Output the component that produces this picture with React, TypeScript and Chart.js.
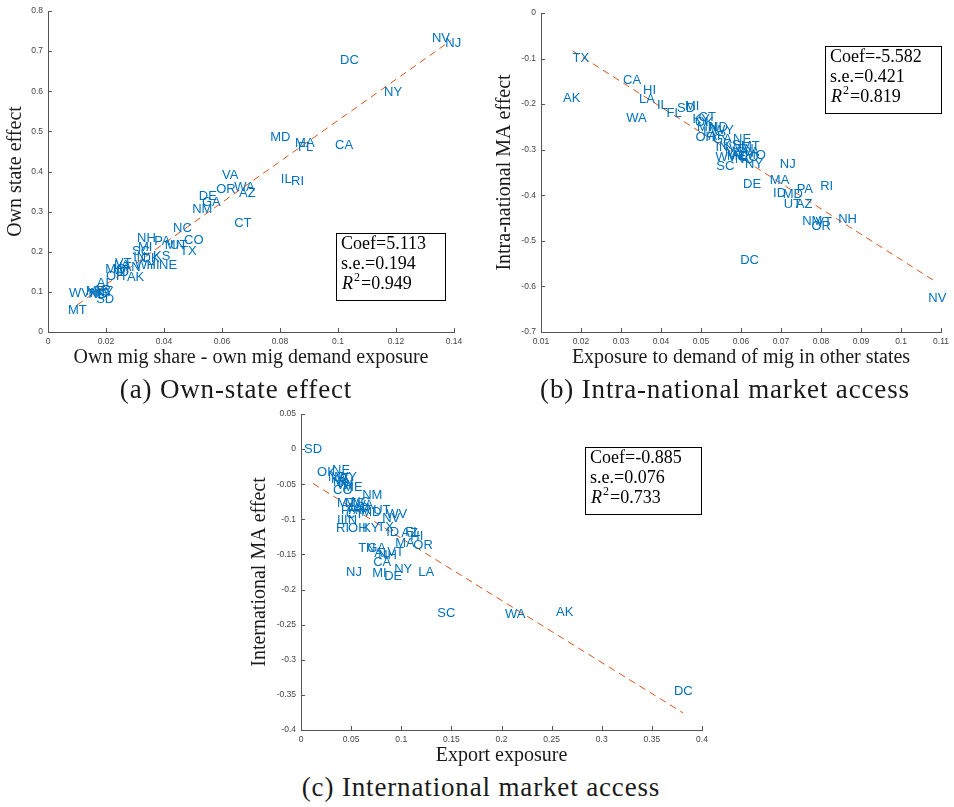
import React, { useEffect, useRef } from 'react';
import { Chart, registerables } from 'chart.js';

Chart.register(...registerables);

// ---------- Panel (a): Own-state effect ----------
const statesA = ['NV','NJ','DC','NY','MD','MA','FL','CA','VA','IL','RI','OR','WA','AZ','DE','GA','NM','CT','NC','CO','NH','PA','MN','UT','TX','SC','MI','IN','OK','KS','VT','WY','HI','NE','MO','WI','IA','OH','AK','AL','WV','ME','MS','KY','AR','SD','MT','LA','TN','ND','ID'];
const xA = [0.1324,0.1370,0.1007,0.1159,0.0766,0.0852,0.0862,0.0990,0.0600,0.0803,0.0838,0.0580,0.0642,0.0659,0.0520,0.0531,0.0497,0.0642,0.0431,0.0469,0.0307,0.0366,0.0403,0.0421,0.0455,0.0290,0.0310,0.0294,0.0320,0.0362,0.0231,0.0300,0.0340,0.0383,0.0197,0.0225,0.0245,0.0200,0.0272,0.0168,0.0072,0.0131,0.0145,0.0166,0.0155,0.0166,0.0069,0.0228,0.0260,0.0140,0.0235];
const yA = [0.731,0.718,0.676,0.596,0.486,0.469,0.459,0.464,0.389,0.381,0.376,0.356,0.360,0.346,0.337,0.324,0.306,0.271,0.257,0.227,0.234,0.225,0.217,0.215,0.200,0.202,0.211,0.185,0.183,0.188,0.170,0.167,0.165,0.165,0.155,0.153,0.160,0.138,0.137,0.122,0.095,0.100,0.097,0.098,0.103,0.082,0.055,0.165,0.160,0.094,0.148];
const coefA = 5.113;
const interceptA = 0.016;
const fitXA = [0.010, 0.139];
const statsA = ['Coef=5.113', 's.e.=0.194', '=0.949'];

// ---------- Panel (b): Intra-national market access ----------
const statesB = ['TX','CA','HI','LA','AK','IL','FL','SD','MI','WA','KY','CT','OK','MN','ND','WY','OH','IA','AR','GA','NE','IN','KS','WI','TN','MT','VA','MS','AL','ME','WV','MO','CO','NC','SC','NY','NJ','DE','MA','PA','RI','ID','MD','UT','AZ','NM','VT','OR','NH','DC','NV'];
const xB = [0.0179,0.0305,0.0355,0.0345,0.0155,0.0390,0.0414,0.0440,0.0460,0.0313,0.0479,0.0494,0.0485,0.0490,0.0520,0.0530,0.0486,0.0505,0.0518,0.0530,0.0580,0.0536,0.0555,0.0570,0.0588,0.0600,0.0605,0.0560,0.0575,0.0565,0.0536,0.0610,0.0595,0.0585,0.0538,0.0610,0.0697,0.0605,0.0672,0.0739,0.0798,0.0680,0.0704,0.0707,0.0737,0.0753,0.0786,0.0776,0.0843,0.0598,0.1068];
const yB = [-0.099,-0.147,-0.169,-0.189,-0.187,-0.202,-0.220,-0.209,-0.205,-0.231,-0.234,-0.230,-0.240,-0.252,-0.252,-0.258,-0.272,-0.262,-0.271,-0.278,-0.278,-0.294,-0.290,-0.297,-0.300,-0.293,-0.305,-0.305,-0.312,-0.315,-0.318,-0.313,-0.318,-0.322,-0.337,-0.333,-0.333,-0.376,-0.368,-0.388,-0.381,-0.397,-0.399,-0.419,-0.421,-0.458,-0.460,-0.469,-0.452,-0.544,-0.627];
const coefB = -5.582;
const interceptB = 0.0169;
const fitXB = [0.0179, 0.109];
const statsB = ['Coef=-5.582', 's.e.=0.421', '=0.819'];

// ---------- Panel (c): International market access ----------
const statesC = ['SD','OK','NE','ND','KS','WY','IA','MN','CO','ME','WI','NM','MT','MS','NC','VA','PA','MO','AR','UT','WV','NV','IN','IL','RI','OH','KY','TX','ID','AZ','FL','HI','MA','OR','TN','GA','AL','VT','NH','CA','NJ','MI','DE','NY','LA','SC','WA','AK','DC','CT','MD'];
const xC = [0.003,0.016,0.031,0.027,0.030,0.035,0.037,0.032,0.032,0.042,0.036,0.061,0.036,0.044,0.050,0.056,0.040,0.047,0.052,0.072,0.085,0.081,0.043,0.036,0.035,0.047,0.061,0.076,0.085,0.100,0.104,0.109,0.094,0.112,0.057,0.066,0.073,0.086,0.077,0.072,0.045,0.071,0.083,0.093,0.117,0.136,0.2035,0.2544,0.372,0.045,0.060];
const yC = [0.000,-0.033,-0.031,-0.040,-0.043,-0.041,-0.048,-0.047,-0.059,-0.054,-0.052,-0.066,-0.077,-0.078,-0.076,-0.080,-0.088,-0.085,-0.088,-0.087,-0.093,-0.098,-0.101,-0.101,-0.113,-0.113,-0.113,-0.111,-0.119,-0.120,-0.118,-0.125,-0.134,-0.137,-0.142,-0.142,-0.149,-0.147,-0.152,-0.161,-0.176,-0.177,-0.181,-0.171,-0.176,-0.234,-0.236,-0.233,-0.345,-0.093,-0.090];
const coefC = -0.885;
const interceptC = -0.0384;
const fitXC = [0.012, 0.381];
const statsC = ['Coef=-0.885', 's.e.=0.076', '=0.733'];

const captions = ['(a) Own-state effect', '(b) Intra-national market access', '(c) International market access'];

// ---------- styles ----------
const LABEL_BLUE = '#0072BD';
const FIT_ORANGE = '#D95319';
const AXIS_GRAY = '#555555';
const SANS = '"Liberation Sans", Arial, Helvetica, sans-serif';
const SERIF = '"Liberation Serif", "Times New Roman", serif';

const fmt = (v: number) => String(Math.round(v * 10000) / 10000);

const labelPlugin = {
  id: 'stateLabels',
  afterDatasetsDraw(chart: any) {
    const ctx = chart.ctx;
    chart.data.datasets.forEach((ds: any, i: number) => {
      if (!ds.stateLabels) return;
      const meta = chart.getDatasetMeta(i);
      ctx.save();
      ctx.font = `13px ${SANS}`;
      ctx.fillStyle = LABEL_BLUE;
      ctx.textAlign = 'left';
      ctx.textBaseline = 'middle';
      meta.data.forEach((pt: any, j: number) => ctx.fillText(ds.stateLabels[j], pt.x, pt.y));
      ctx.restore();
    });
  },
};

const inwardTicks = {
  id: 'inwardTicks',
  afterDraw(chart: any) {
    const { ctx, chartArea: ca } = chart;
    ctx.save();
    ctx.strokeStyle = AXIS_GRAY;
    ctx.lineWidth = 1;
    Object.values(chart.scales).forEach((s: any) => {
      s.ticks.forEach((_t: any, i: number) => {
        const p = s.getPixelForTick(i);
        ctx.beginPath();
        if (s.isHorizontal()) {
          const x = Math.round(p) + 0.5;
          ctx.moveTo(x, ca.bottom);
          ctx.lineTo(x, ca.bottom - 4);
        } else {
          const y = Math.round(p) + 0.5;
          ctx.moveTo(ca.left, y);
          ctx.lineTo(ca.left + 4, y);
        }
        ctx.stroke();
      });
    });
    ctx.restore();
  },
};

function statsBox(lines: string[], fx: number, fy: number) {
  return {
    id: 'statsBox',
    afterDraw(chart: any) {
      const { ctx, chartArea: ca } = chart;
      const left = Math.round(ca.left + fx * (ca.right - ca.left));
      const top = Math.round(ca.top + fy * (ca.bottom - ca.top));
      ctx.save();
      ctx.font = `18px ${SERIF}`;
      const w = Math.max(ctx.measureText(lines[0]).width, ctx.measureText(lines[1]).width);
      const bw = Math.round(w + 24);
      const bh = 67;
      ctx.fillStyle = '#ffffff';
      ctx.fillRect(left, top, bw, bh);
      ctx.strokeStyle = '#000000';
      ctx.lineWidth = 1;
      ctx.strokeRect(left + 0.5, top + 0.5, bw, bh);
      ctx.fillStyle = '#000000';
      ctx.textAlign = 'left';
      ctx.textBaseline = 'middle';
      ctx.fillText(lines[0], left + 5, top + 11);
      ctx.fillText(lines[1], left + 5, top + 31);
      ctx.font = `italic 18px ${SERIF}`;
      ctx.fillText('R', left + 6, top + 51);
      const rw = ctx.measureText('R').width;
      ctx.font = `12px ${SERIF}`;
      ctx.fillText('2', left + 6 + rw + 1, top + 45);
      const tw = ctx.measureText('2').width;
      ctx.font = `18px ${SERIF}`;
      ctx.fillText(lines[2], left + 6 + rw + 1 + tw + 1, top + 51);
      ctx.restore();
    },
  };
}

interface Panel {
  left: number; top: number; width: number; height: number;
  states: string[]; xs: number[]; ys: number[];
  coef: number; intercept: number; fitX: number[];
  xr: number[]; yr: number[];
  xTitle: string; yTitle: string;
  yW: number; xH: number;
  pad: { left: number; top: number; right: number; bottom: number };
  yTitlePad: number; xTitlePad: number;
  stats: string[]; box: number[];
}

const panels: Panel[] = [
  {
    left: 0, top: 0, width: 480, height: 372,
    states: statesA, xs: xA, ys: yA, coef: coefA, intercept: interceptA, fitX: fitXA,
    xr: [0, 0.14, 0.02], yr: [0, 0.8, 0.1],
    xTitle: 'Own mig share - own mig demand exposure', yTitle: 'Own state effect',
    yW: 48, xH: 40, pad: { left: 0, top: 11, right: 26, bottom: 0 }, yTitlePad: 6, xTitlePad: 4,
    stats: statsA, box: [0.709, 0.692],
  },
  {
    left: 490, top: 0, width: 464, height: 372,
    states: statesB, xs: xB, ys: yB, coef: coefB, intercept: interceptB, fitX: fitXB,
    xr: [0.01, 0.11, 0.01], yr: [-0.7, 0, 0.1],
    xTitle: 'Exposure to demand of mig in other states', yTitle: 'Intra-national MA effect',
    yW: 51, xH: 40, pad: { left: 0, top: 13, right: 9, bottom: 0 }, yTitlePad: 5, xTitlePad: 4,
    stats: statsB, box: [0.710, 0.103],
  },
  {
    left: 240, top: 400, width: 480, height: 372,
    states: statesC, xs: xC, ys: yC, coef: coefC, intercept: interceptC, fitX: fitXC,
    xr: [0, 0.4, 0.05], yr: [-0.4, 0.05, 0.05],
    xTitle: 'Export exposure', yTitle: 'International MA effect',
    yW: 61, xH: 42, pad: { left: 0, top: 14, right: 18, bottom: 0 }, yTitlePad: 10, xTitlePad: 6,
    stats: statsC, box: [0.708, 0.104],
  },
];

function ScatterPanel({ p }: { p: Panel }) {
  const ref = useRef<HTMLCanvasElement | null>(null);
  useEffect(() => {
    if (!ref.current) return;
    const points = p.xs.map((x, i) => ({ x, y: p.ys[i] }));
    const fit = p.fitX.map((x) => ({ x, y: p.intercept + p.coef * x }));
    const tickCfg = { color: '#444444', font: { family: SANS, size: 8.5 }, padding: 5, autoSkip: false, maxRotation: 0, callback: (v: any) => fmt(Number(v)) };
    const chart = new Chart(ref.current, {
      type: 'scatter',
      data: {
        datasets: [
          { data: fit, showLine: true, borderColor: FIT_ORANGE, borderWidth: 1, borderDash: [7, 5], pointRadius: 0, fill: false } as any,
          { data: points, pointRadius: 0, pointHoverRadius: 0, stateLabels: p.states } as any,
        ],
      },
      options: {
        animation: false,
        responsive: false,
        events: [],
        layout: { padding: p.pad },
        plugins: { legend: { display: false }, tooltip: { enabled: false } },
        scales: {
          x: {
            type: 'linear', position: 'bottom', min: p.xr[0], max: p.xr[1],
            ticks: { ...tickCfg, stepSize: p.xr[2] },
            grid: { display: false, drawTicks: false },
            border: { display: true, color: AXIS_GRAY, width: 1 },
            title: { display: true, text: p.xTitle, color: '#1a1a1a', font: { family: SERIF, size: 20, lineHeight: 1 }, padding: { top: 0, bottom: p.xTitlePad } },
            afterFit: (s: any) => { s.height = p.xH; },
          },
          y: {
            type: 'linear', position: 'left', min: p.yr[0], max: p.yr[1],
            ticks: { ...tickCfg, stepSize: p.yr[2] },
            grid: { display: false, drawTicks: false },
            border: { display: true, color: AXIS_GRAY, width: 1 },
            title: { display: true, text: p.yTitle, color: '#1a1a1a', font: { family: SERIF, size: 20, lineHeight: 1 }, padding: { top: p.yTitlePad, bottom: 0 } },
            afterFit: (s: any) => { s.width = p.yW; },
          },
        },
      } as any,
      plugins: [labelPlugin, inwardTicks, statsBox(p.stats, p.box[0], p.box[1])],
    });
    return () => chart.destroy();
  }, [p]);
  return (
    <div style={{ position: 'absolute', left: p.left, top: p.top, width: p.width, height: p.height }}>
      <canvas ref={ref} width={p.width} height={p.height} style={{ width: p.width, height: p.height, display: 'block' }} />
    </div>
  );
}

const captionPos = [
  { cx: 236, top: 376 },
  { cx: 725, top: 376 },
  { cx: 481, top: 774 },
];

export default function App() {
  return (
    <div style={{ position: 'absolute', left: 0, top: 0, width: 954, height: 807, background: '#ffffff', overflow: 'hidden' }}>
      {panels.map((p, i) => <ScatterPanel key={i} p={p} />)}
      {captions.map((c, i) => (
        <div
          key={c}
          style={{
            position: 'absolute', left: captionPos[i].cx - 300, top: captionPos[i].top, width: 600,
            textAlign: 'center', fontFamily: SERIF, fontSize: 27, lineHeight: '27px', letterSpacing: '0.85px',
            color: '#1a1a1a', whiteSpace: 'nowrap',
          }}
        >
          {c}
        </div>
      ))}
    </div>
  );
}
